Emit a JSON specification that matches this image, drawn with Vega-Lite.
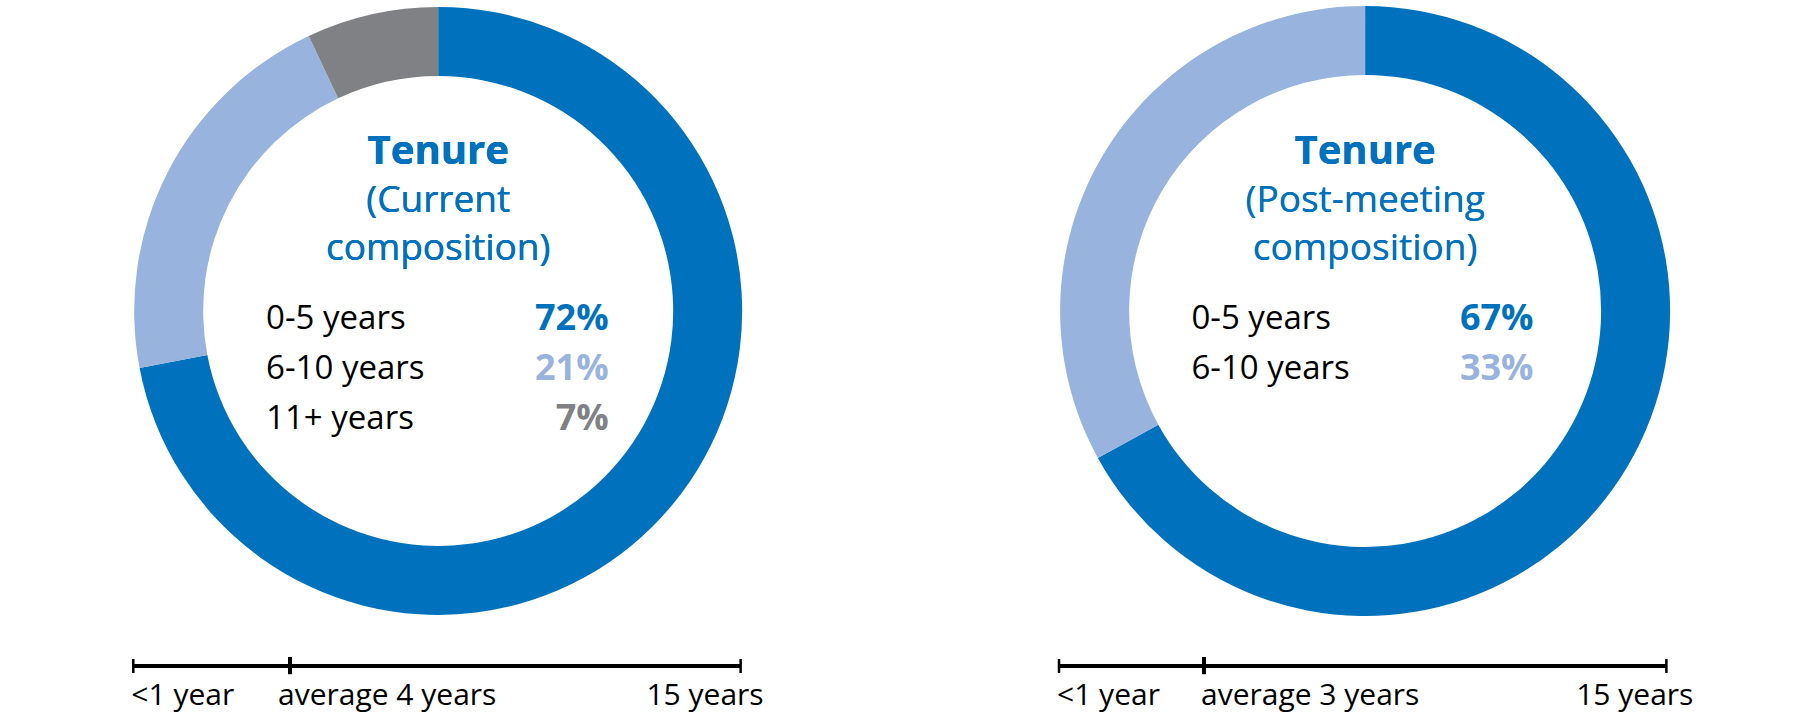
{
  "$schema": "https://vega.github.io/schema/vega-lite/v6.json",
  "background": "white",
  "padding": 0,
  "spacing": 53,
  "datasets": {
    "current": [
      {"category": "0-5 years", "share": 0.72, "order": 1},
      {"category": "6-10 years", "share": 0.21, "order": 2},
      {"category": "11+ years", "share": 0.07, "order": 3}
    ],
    "post": [
      {"category": "0-5 years", "share": 0.67, "order": 1},
      {"category": "6-10 years", "share": 0.33, "order": 2}
    ],
    "timeline_current": [
      {"label": "<1 year", "years": 0, "kind": "start"},
      {"label": "average 4 years", "years": 3.87, "kind": "average"},
      {"label": "15 years", "years": 15, "kind": "end"}
    ],
    "timeline_post": [
      {"label": "<1 year", "years": 0, "kind": "start"},
      {"label": "average 3 years", "years": 3.58, "kind": "average"},
      {"label": "15 years", "years": 15, "kind": "end"}
    ]
  },
  "config": {
    "view": {"stroke": null},
    "text": {"font": "Open Sans", "baseline": "middle"}
  },
  "hconcat": [
    {
      "width": 876,
      "height": 718,
      "data": {"name": "current"},
      "resolve": {"scale": {"y": "independent"}},
      "layer": [
        {
          "layer": [
            {
              "mark": {"type": "arc", "innerRadius": 235, "outerRadius": 304},
              "encoding": {
                "theta": {"field": "share", "type": "quantitative", "stack": true},
                "order": {"field": "order", "type": "quantitative"},
                "color": {"field": "category", "type": "nominal", "legend": null,
                  "scale": {"domain": ["0-5 years", "6-10 years", "11+ years"], "range": ["#0071BC", "#97B3DE", "#808184"]}},
                "x": {"datum": 7.53, "type": "quantitative", "axis": null,
                  "scale": {"domain": [-3.292, 18.343], "nice": false, "zero": false}},
                "y": {"datum": 43.31, "type": "quantitative", "axis": null,
                  "scale": {"domain": [0, 100], "reverse": true, "nice": false, "zero": false}}
              }
            },
            {
              "mark": {"type": "text", "text": "Tenure", "fontSize": 40, "fontWeight": "bold", "color": "#0071BC", "align": "center"},
              "encoding": {"x": {"datum": 7.53, "type": "quantitative"}, "y": {"datum": 21.2, "type": "quantitative"}}
            },
            {
              "mark": {"type": "text", "text": "(Current", "fontSize": 37, "color": "#0071BC", "align": "center"},
              "encoding": {"x": {"datum": 7.53, "type": "quantitative"}, "y": {"datum": 28.0, "type": "quantitative"}}
            },
            {
              "mark": {"type": "text", "text": "composition)", "fontSize": 37, "color": "#0071BC", "align": "center"},
              "encoding": {"x": {"datum": 7.53, "type": "quantitative"}, "y": {"datum": 34.7, "type": "quantitative"}}
            },
            {
              "data": {"name": "timeline_current"},
              "mark": {"type": "rule", "strokeWidth": 4, "color": "#000"},
              "encoding": {"x": {"datum": 0, "type": "quantitative"}, "x2": {"datum": 15}, "y": {"datum": 92.76, "type": "quantitative"}}
            },
            {
              "data": {"name": "timeline_current"},
              "transform": [{"filter": "datum.kind !== 'average'"}],
              "mark": {"type": "rule", "strokeWidth": 2.5, "color": "#000"},
              "encoding": {"x": {"field": "years", "type": "quantitative"}, "y": {"datum": 91.78, "type": "quantitative"}, "y2": {"datum": 93.73}}
            },
            {
              "data": {"name": "timeline_current"},
              "transform": [{"filter": "datum.kind === 'average'"}],
              "mark": {"type": "rule", "strokeWidth": 4, "color": "#000"},
              "encoding": {"x": {"field": "years", "type": "quantitative"}, "y": {"datum": 91.5, "type": "quantitative"}, "y2": {"datum": 93.9}}
            },
            {
              "data": {"name": "timeline_current"},
              "transform": [{"filter": "datum.kind === 'start'"}],
              "mark": {"type": "text", "fontSize": 30, "color": "#000", "align": "left", "dx": -2},
              "encoding": {"x": {"field": "years", "type": "quantitative"}, "y": {"datum": 97.0, "type": "quantitative"}, "text": {"field": "label"}}
            },
            {
              "data": {"name": "timeline_current"},
              "transform": [{"filter": "datum.kind === 'average'"}],
              "mark": {"type": "text", "fontSize": 30, "color": "#000", "align": "left", "dx": -12},
              "encoding": {"x": {"field": "years", "type": "quantitative"}, "y": {"datum": 97.0, "type": "quantitative"}, "text": {"field": "label"}}
            },
            {
              "data": {"name": "timeline_current"},
              "transform": [{"filter": "datum.kind === 'end'"}],
              "mark": {"type": "text", "fontSize": 30, "color": "#000", "align": "right", "dx": 23},
              "encoding": {"x": {"field": "years", "type": "quantitative"}, "y": {"datum": 97.0, "type": "quantitative"}, "text": {"field": "label"}}
            }
          ]
        },
        {
          "layer": [
            {
              "mark": {"type": "text", "fontSize": 33, "color": "#000", "align": "left"},
              "encoding": {
                "x": {"datum": 3.28, "type": "quantitative"},
                "y": {"field": "order", "type": "quantitative", "axis": null,
                  "scale": {"domain": [-5.37, 8.99], "reverse": true, "nice": false, "zero": false}},
                "text": {"field": "category"}
              }
            },
            {
              "mark": {"type": "text", "fontSize": 36, "fontWeight": "bold", "align": "right"},
              "encoding": {
                "x": {"datum": 11.74, "type": "quantitative"},
                "y": {"field": "order", "type": "quantitative"},
                "text": {"field": "share", "format": ".0%"},
                "color": {"field": "category", "type": "nominal"}
              }
            }
          ]
        }
      ]
    },
    {
      "width": 872,
      "height": 718,
      "data": {"name": "post"},
      "resolve": {"scale": {"y": "independent"}},
      "layer": [
        {
          "layer": [
            {
              "mark": {"type": "arc", "innerRadius": 236, "outerRadius": 305},
              "encoding": {
                "theta": {"field": "share", "type": "quantitative", "stack": true},
                "order": {"field": "order", "type": "quantitative"},
                "color": {"field": "category", "type": "nominal", "legend": null,
                  "scale": {"domain": ["0-5 years", "6-10 years", "11+ years"], "range": ["#0071BC", "#97B3DE", "#808184"]}},
                "x": {"datum": 7.56, "type": "quantitative", "axis": null,
                  "scale": {"domain": [-3.211, 18.325], "nice": false, "zero": false}},
                "y": {"datum": 43.31, "type": "quantitative", "axis": null,
                  "scale": {"domain": [0, 100], "reverse": true, "nice": false, "zero": false}}
              }
            },
            {
              "mark": {"type": "text", "text": "Tenure", "fontSize": 40, "fontWeight": "bold", "color": "#0071BC", "align": "center"},
              "encoding": {"x": {"datum": 7.56, "type": "quantitative"}, "y": {"datum": 21.2, "type": "quantitative"}}
            },
            {
              "mark": {"type": "text", "text": "(Post-meeting", "fontSize": 37, "color": "#0071BC", "align": "center"},
              "encoding": {"x": {"datum": 7.56, "type": "quantitative"}, "y": {"datum": 28.0, "type": "quantitative"}}
            },
            {
              "mark": {"type": "text", "text": "composition)", "fontSize": 37, "color": "#0071BC", "align": "center"},
              "encoding": {"x": {"datum": 7.56, "type": "quantitative"}, "y": {"datum": 34.7, "type": "quantitative"}}
            },
            {
              "data": {"name": "timeline_post"},
              "mark": {"type": "rule", "strokeWidth": 4, "color": "#000"},
              "encoding": {"x": {"datum": 0, "type": "quantitative"}, "x2": {"datum": 15}, "y": {"datum": 92.76, "type": "quantitative"}}
            },
            {
              "data": {"name": "timeline_post"},
              "transform": [{"filter": "datum.kind !== 'average'"}],
              "mark": {"type": "rule", "strokeWidth": 2.5, "color": "#000"},
              "encoding": {"x": {"field": "years", "type": "quantitative"}, "y": {"datum": 91.78, "type": "quantitative"}, "y2": {"datum": 93.73}}
            },
            {
              "data": {"name": "timeline_post"},
              "transform": [{"filter": "datum.kind === 'average'"}],
              "mark": {"type": "rule", "strokeWidth": 4, "color": "#000"},
              "encoding": {"x": {"field": "years", "type": "quantitative"}, "y": {"datum": 91.5, "type": "quantitative"}, "y2": {"datum": 93.9}}
            },
            {
              "data": {"name": "timeline_post"},
              "transform": [{"filter": "datum.kind === 'start'"}],
              "mark": {"type": "text", "fontSize": 30, "color": "#000", "align": "left", "dx": -2},
              "encoding": {"x": {"field": "years", "type": "quantitative"}, "y": {"datum": 97.0, "type": "quantitative"}, "text": {"field": "label"}}
            },
            {
              "data": {"name": "timeline_post"},
              "transform": [{"filter": "datum.kind === 'average'"}],
              "mark": {"type": "text", "fontSize": 30, "color": "#000", "align": "left", "dx": -3},
              "encoding": {"x": {"field": "years", "type": "quantitative"}, "y": {"datum": 97.0, "type": "quantitative"}, "text": {"field": "label"}}
            },
            {
              "data": {"name": "timeline_post"},
              "transform": [{"filter": "datum.kind === 'end'"}],
              "mark": {"type": "text", "fontSize": 30, "color": "#000", "align": "right", "dx": 27},
              "encoding": {"x": {"field": "years", "type": "quantitative"}, "y": {"datum": 97.0, "type": "quantitative"}, "text": {"field": "label"}}
            }
          ]
        },
        {
          "layer": [
            {
              "mark": {"type": "text", "fontSize": 33, "color": "#000", "align": "left"},
              "encoding": {
                "x": {"datum": 3.27, "type": "quantitative"},
                "y": {"field": "order", "type": "quantitative", "axis": null,
                  "scale": {"domain": [-5.37, 8.99], "reverse": true, "nice": false, "zero": false}},
                "text": {"field": "category"}
              }
            },
            {
              "mark": {"type": "text", "fontSize": 36, "fontWeight": "bold", "align": "right"},
              "encoding": {
                "x": {"datum": 11.72, "type": "quantitative"},
                "y": {"field": "order", "type": "quantitative"},
                "text": {"field": "share", "format": ".0%"},
                "color": {"field": "category", "type": "nominal"}
              }
            }
          ]
        }
      ]
    }
  ]
}
